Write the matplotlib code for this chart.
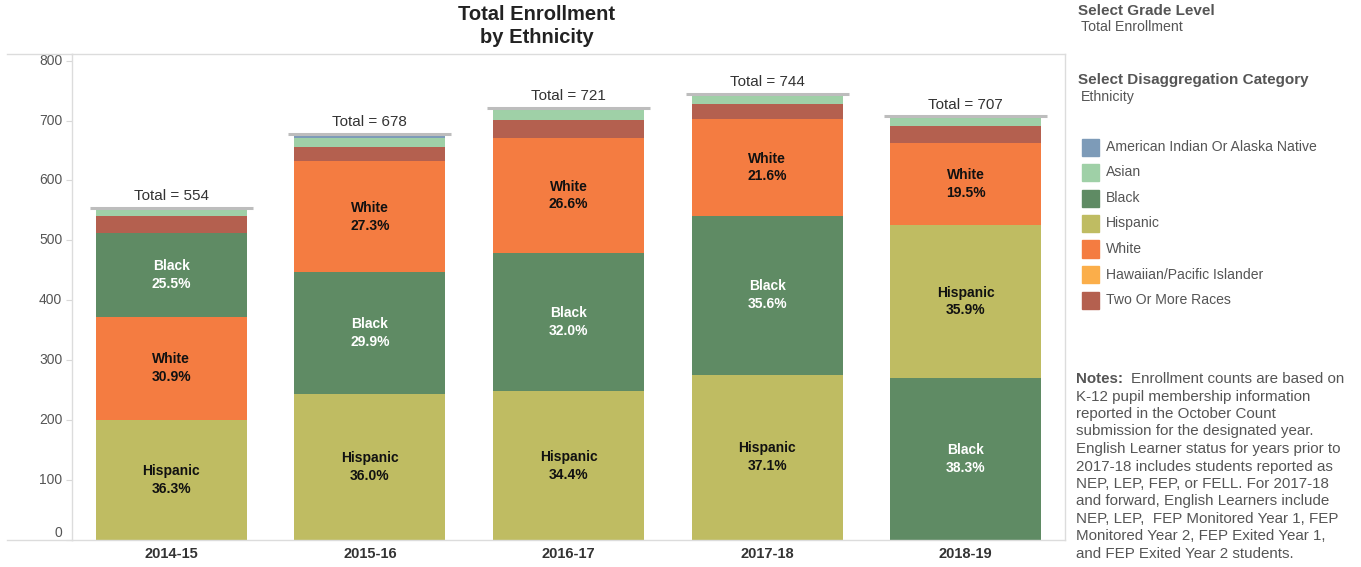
import matplotlib
matplotlib.use("Agg")
import matplotlib.pyplot as plt
from matplotlib.patches import Rectangle
from matplotlib.lines import Line2D

plt.rcParams['font.family'] = ['Liberation Sans', 'DejaVu Sans']

years = ["2014-15", "2015-16", "2016-17", "2017-18", "2018-19"]
categories = ["American Indian Or Alaska Native", "Asian", "Black", "Hispanic",
              "White", "Hawaiian/Pacific Islander", "Two Or More Races"]
colors = {"American Indian Or Alaska Native": "#7d9bb8",
          "Asian": "#9fd0a7",
          "Black": "#5f8b64",
          "Hispanic": "#bfbc62",
          "White": "#f47c41",
          "Hawaiian/Pacific Islander": "#fbae4a",
          "Two Or More Races": "#b4604f"}

american_indian = [1, 6, 0, 0, 0]
asian = [9, 15, 20, 16, 16]
black = [141, 203, 231, 265, 271]
hispanic = [201, 244, 248, 276, 254]
white = [171, 185, 192, 161, 138]
hawaiian = [3, 1, 0, 0, 0]
two_or_more = [28, 24, 30, 26, 28]

series = {"American Indian Or Alaska Native": american_indian, "Asian": asian,
          "Black": black, "Hispanic": hispanic, "White": white,
          "Hawaiian/Pacific Islander": hawaiian, "Two Or More Races": two_or_more}
labeled = ["Black", "Hispanic", "White"]
label_color = {"Black": "white", "Hispanic": "#111111", "White": "#111111"}

W, H = 1361, 567
fig = plt.figure(figsize=(W / 100, H / 100), dpi=100)
ax = fig.add_axes([72 / W, 1 - 540 / H, (1065 - 72) / W, (540 - 54) / H])

bar_w = 0.76
for i, yr in enumerate(years):
    vals = sorted(((series[c][i], c) for c in categories if series[c][i] > 0),
                  key=lambda t: -t[0])
    total = sum(v for v, _ in vals)
    bottom = 0
    for v, c in vals:
        ax.bar(i, v, bottom=bottom, width=bar_w, color=colors[c], linewidth=0)
        if c in labeled:
            ax.text(i, bottom + v / 2, f"{c}\n{100 * v / total:.1f}%", ha="center",
                    va="center", fontsize=10, fontweight="bold",
                    color=label_color[c], linespacing=1.35)
        bottom += v
    ax.plot([i - bar_w / 2 - 0.03, i + bar_w / 2 + 0.03], [total, total],
            color="#bdbdbd", lw=2.2, solid_capstyle="butt")
    ax.text(i, total + 8, f"Total = {total}", ha="center", va="bottom",
            fontsize=11, color="#333333")

ax.set_xlim(-0.5, len(years) - 0.5)
ax.set_ylim(0, 811)
ax.set_yticks(range(0, 801, 100))
ax.set_yticklabels([str(v) for v in range(0, 801, 100)])
ax.set_xticks(range(len(years)))
ax.set_xticklabels(years, fontweight="bold", fontsize=10.5, color="#333333")
ax.tick_params(axis="x", length=0, pad=5)
ax.tick_params(axis="y", length=4, width=0.8, color="#d8d8d8", labelsize=10,
               labelcolor="#555555", pad=3)
ylabels = ax.get_yticklabels()
for yl in ylabels:
    yl.set_va("center")
ylabels[0].set_va("bottom")
for s in ax.spines.values():
    s.set_color("#dcdcdc")
    s.set_linewidth(1)

# outer frame lines extending left
for yy in (54, 540):
    fig.add_artist(Line2D([7 / W, 72 / W], [1 - yy / H, 1 - yy / H],
                          color="#dcdcdc", lw=1))

fig.text(537 / W, 1 - 26 / H, "Total Enrollment\nby Ethnicity", ha="center",
         va="center", fontsize=14.5, fontweight="bold", color="#222222",
         linespacing=1.3)

# right panel
grey = "#555555"
fig.text(1078 / W, 1 - 11 / H, "Select Grade Level", fontsize=11, fontweight="bold",
         color=grey, va="center")
fig.text(1081 / W, 1 - 27 / H, "Total Enrollment", fontsize=10.2, color=grey, va="center")
fig.text(1078 / W, 1 - 80 / H, "Select Disaggregation Category", fontsize=11,
         fontweight="bold", color=grey, va="center")
fig.text(1081 / W, 1 - 97 / H, "Ethnicity", fontsize=10.2, color=grey, va="center")
for k, c in enumerate(categories):
    yc = 147 + k * 25.5
    fig.add_artist(Rectangle((1082 / W, 1 - (yc + 8.5) / H), 17 / W, 17 / H,
                             color=colors[c], transform=fig.transFigure))
    fig.text(1106 / W, 1 - yc / H, c, fontsize=10.1, color=grey, va="center")

notes = ["Enrollment counts are based on",
         "K-12 pupil membership information",
         "reported in the October Count",
         "submission for the designated year.",
         "English Learner status for years prior to",
         "2017-18 includes students reported as",
         "NEP, LEP, FEP, or FELL. For 2017-18",
         "and forward, English Learners include",
         "NEP, LEP,  FEP Monitored Year 1, FEP",
         "Monitored Year 2, FEP Exited Year 1,",
         "and FEP Exited Year 2 students."]
fig.text(1076 / W, 1 - 379 / H, "Notes:", fontsize=10.9, fontweight="bold",
         color=grey, va="center")
fig.text(1131 / W, 1 - 379 / H, notes[0], fontsize=10.9, color=grey, va="center")
for k, line in enumerate(notes[1:], start=1):
    fig.text(1076 / W, 1 - (379 + k * 17.5) / H, line, fontsize=10.9, color=grey,
             va="center")

fig.savefig("out.png", dpi=100, facecolor="white")
